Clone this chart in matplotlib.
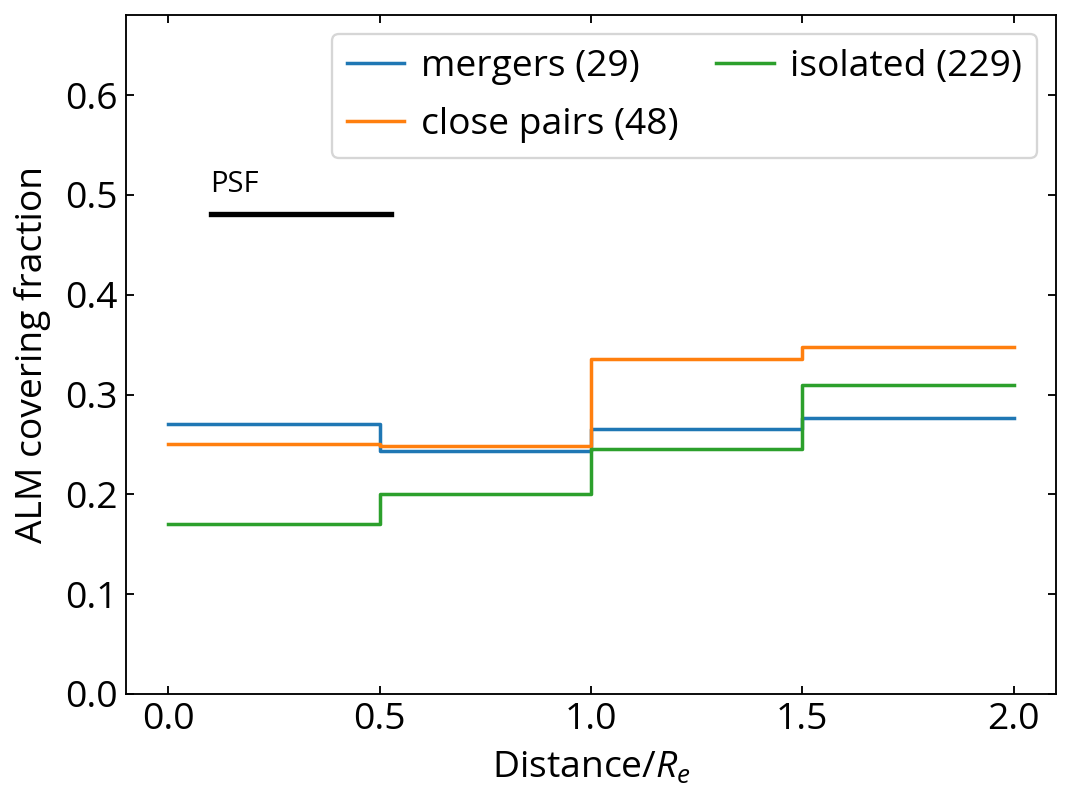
import matplotlib
matplotlib.use("Agg")
import matplotlib.pyplot as plt
import numpy as np

plt.rcParams['font.family'] = ['Open Sans', 'DejaVu Sans']
plt.rcParams['mathtext.fontset'] = 'custom'
plt.rcParams['mathtext.rm'] = 'Open Sans'
plt.rcParams['mathtext.it'] = 'Open Sans:italic'

bin_edges = [0.0, 0.5, 1.0, 1.5, 2.0]
mergers = [0.270, 0.243, 0.265, 0.277]
close_pairs = [0.250, 0.248, 0.336, 0.348]
isolated = [0.170, 0.200, 0.245, 0.310]
labels = ["mergers (29)", "close pairs (48)", "isolated (229)"]
colors = ["#1f77b4", "#ff7f0e", "#2ca02c"]
psf_x = [0.1, 0.527]
psf_y = 0.481

fig = plt.figure(figsize=(6.4, 4.812), dpi=167.5)
ax = fig.add_axes([0.1175, 0.139, 0.8675, 0.842])

for vals, lab, c in zip([mergers, close_pairs, isolated], labels, colors):
    ax.step(bin_edges, list(vals) + [vals[-1]], where='post', color=c, lw=1.5, label=lab)

ax.plot(psf_x, [psf_y, psf_y], color='black', lw=2.3)
ax.text(psf_x[0], psf_y + 0.015, "PSF", fontsize=12.5, ha='left', va='bottom')

ax.set_xlim(-0.1, 2.1)
ax.set_ylim(0, 0.68)
ax.set_xticks([0.0, 0.5, 1.0, 1.5, 2.0])
ax.set_yticks([0.0, 0.1, 0.2, 0.3, 0.4, 0.5, 0.6])
ax.tick_params(direction='in', top=True, right=True, labelsize=16)
ax.set_xlabel(r"Distance/$R_e$", fontsize=16, labelpad=5)
ax.set_ylabel("ALM covering fraction", fontsize=16, labelpad=6)

ax.legend(ncol=2, loc='upper right', fontsize=16, handlelength=1.55,
          handletextpad=0.45, columnspacing=1.0, labelspacing=0.6)

fig.savefig("out.png", dpi=167.5)
